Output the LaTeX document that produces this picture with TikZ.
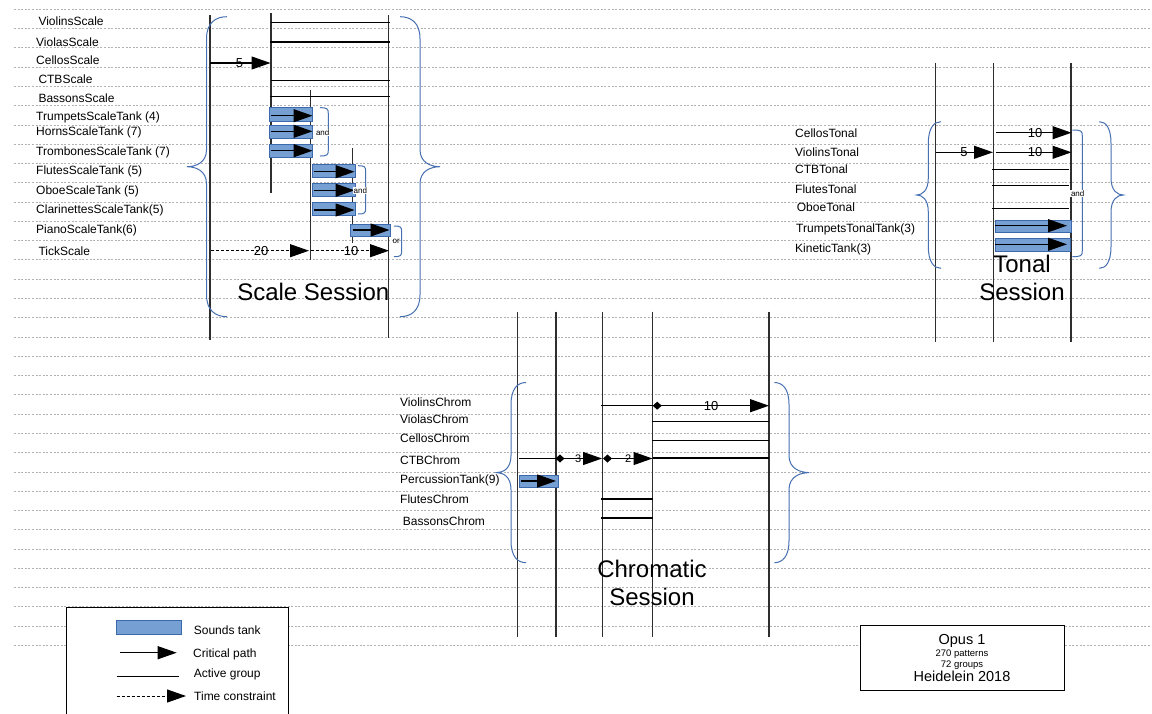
\documentclass[tikz,border=0pt]{standalone}
\usepackage{fontspec}
\setmainfont{Liberation Sans}
\usetikzlibrary{arrows.meta}
\definecolor{bracecol}{RGB}{70,112,178}
\definecolor{tankfill}{RGB}{118,160,212}
\definecolor{tankdraw}{RGB}{60,105,172}
\definecolor{gridcol}{RGB}{178,178,178}
\newcommand{\mybrace}[5]{% xe xs xt yt yb
  \pgfmathsetmacro{\mybraceym}{(#4+#5)/2}
  \draw[bracestyle] (#1,#4) .. controls ({#2+0.45*(#1-#2)},#4) and (#2,{#4+6}) .. (#2,{#4+22})
    -- (#2,{\mybraceym-17}) .. controls (#2,{\mybraceym-4}) and ({#2+0.55*(#3-#2)},\mybraceym) .. (#3,\mybraceym)
    .. controls ({#2+0.55*(#3-#2)},\mybraceym) and (#2,{\mybraceym+4}) .. (#2,{\mybraceym+17})
    -- (#2,{#5-22}) .. controls (#2,{#5-6}) and ({#2+0.45*(#1-#2)},#5) .. (#1,#5);}
\newcommand{\mybracket}[4]{% x0 xs yt yb
  \draw[bracestyle] (#1,#3) .. controls ({#2-1},#3) and (#2,{#3+1}) .. (#2,{#3+6}) -- (#2,{#4-6})
    .. controls (#2,{#4-1}) and ({#2-1},#4) .. (#1,#4);}
\tikzset{
  bracestyle/.style={draw=bracecol, line width=1pt},
  gridline/.style={draw=gridcol, line width=0.8pt, dash pattern=on 2pt off 1.6pt},
  lane/.style={draw=black!82, line width=1.3pt},
  active/.style={draw=black, line width=1.2pt},
  crit/.style={draw=black, line width=1.2pt, -{Triangle[length=19pt,width=13pt]}},
  dcrit/.style={draw=black, line width=1.2pt, {Diamond[length=9pt,width=8pt]}-{Triangle[length=19pt,width=13pt]}},
  timec/.style={draw=black, line width=1pt, dash pattern=on 3pt off 2pt, -{Triangle[length=19pt,width=13pt]}},
  tank/.style={fill=tankfill, draw=tankdraw, line width=1pt},
  lab/.style={anchor=west, inner sep=0pt, font=\fontsize{12}{14}\selectfont, text height=8.6pt, text depth=0pt},
  num/.style={inner sep=0pt, font=\fontsize{13}{15}\selectfont, text height=9.3pt, text depth=0pt},
  snum/.style={inner sep=0pt, font=\fontsize{11}{13}\selectfont, text height=7.9pt, text depth=0pt},
  small/.style={inner sep=0.6pt, font=\fontsize{8}{9}\selectfont, text height=5.8pt, text depth=0pt},
  title/.style={inner sep=0pt, align=center, font=\fontsize{24}{27.6}\selectfont},
}
\begin{document}
\begin{tikzpicture}[x=1pt,y=-1pt]
\useasboundingbox (0,0) rectangle (1152,713);
\fill[white] (0,0) rectangle (1152,713);
% grid
\foreach \k in {0,...,33}
  \draw[gridline] (14,{9.3+19.275*\k}) -- (1152,{9.3+19.275*\k});

%================ SCALE SESSION
\draw[lane] (210,15) -- (210,340);
\draw[lane] (271,13) -- (271,192.7);
\draw[lane] (310.5,90) -- (310.5,260);
\draw[lane] (352.7,148) -- (352.7,242.7);
\draw[lane] (388.3,15) -- (388.3,338);

\node[lab] (sViolins) at (38.3,20.7) {ViolinsScale};
\node[lab] (sViolas) at (36,42.3) {ViolasScale};
\node[lab] (sCellos) at (36,60) {CellosScale};
\node[lab] (sCTB) at (38.3,79.3) {CTBScale};
\node[lab] (sBassons) at (38.3,98.3) {BassonsScale};
\node[lab] (sTrumpets) at (36,116) {TrumpetsScaleTank (4)};
\node[lab] (sHorns) at (36,131) {HornsScaleTank (7)};
\node[lab] (sTrombones) at (36,150.7) {TrombonesScaleTank (7)};
\node[lab] (sFlutes) at (36,170) {FlutesScaleTank (5)};
\node[lab] (sOboe) at (36,190) {OboeScaleTank (5)};
\node[lab] (sClar) at (36,209) {ClarinettesScaleTank(5)};
\node[lab] (sPiano) at (36,229) {PianoScaleTank(6)};
\node[lab] (sTick) at (38.3,251) {TickScale};

\draw[active] (271,22.7) -- (390,22.7);
\draw[active] (270,42) -- (390,42);
\draw[active] (271,80.3) -- (390,80.3);
\draw[active] (270,96.3) -- (390,96.3);
\draw[crit] (210,63) -- (270.5,63);
\node[num] (sn5) at (239.5,63) {5};

\draw[tank] (269.3,107.7) rectangle (312.7,121.7);
\draw[crit] (271,115.7) -- (312.5,115.7);
\draw[tank] (269.3,125) rectangle (312.7,138.3);
\draw[crit] (271,131.3) -- (312.5,131.3);
\draw[tank] (269.3,144) rectangle (312.7,157.7);
\draw[crit] (271,150.7) -- (312.5,150.7);
\draw[tank] (312.3,164) rectangle (355,177.3);
\draw[crit] (314,171.7) -- (354.5,171.7);
\draw[tank] (312.3,183.3) rectangle (355,196.7);
\draw[crit] (314,190.3) -- (354.5,190.3);
\draw[tank] (312.3,202.3) rectangle (355,215.7);
\draw[crit] (314,210) -- (354.5,210);
\draw[tank] (350.7,224) rectangle (390,236);
\draw[crit] (352.5,230) -- (389.5,230);

\mybracket{320}{328.3}{107.7}{156}
\node[small,fill=white] (sand1) at (322.7,132.3) {and};
\mybracket{358}{365.7}{165.7}{214}
\node[small,fill=white] (sand2) at (360.3,190.3) {and};
\mybracket{394}{401.7}{226}{256.7}
\node[small] (sor) at (396.3,241) {or};

\draw[timec] (211,250.7) -- (309,250.7);
\node[num] (sn20) at (261,250.7) {20};
\draw[timec] (311,250.7) -- (389,250.7);
\node[num] (sn10) at (351,250.7) {10};

\node[title] (sTitle) at (313.3,291.7) {Scale Session};
\mybrace{227}{206.5}{187}{16.7}{316.7}
\mybrace{400}{420}{440}{16.7}{316.7}

%================ TONAL SESSION
\draw[lane] (935.7,63.3) -- (935.7,341.7);
\draw[lane] (993.3,63.3) -- (993.3,341.7);
\draw[lane] (1071,63.3) -- (1071,341.7);

\node[lab] (tCellos) at (795,132.7) {CellosTonal};
\node[lab] (tViolins) at (795,152.3) {ViolinsTonal};
\node[lab] (tCTB) at (795,169.3) {CTBTonal};
\node[lab] (tFlutes) at (795,189.3) {FlutesTonal};
\node[lab] (tOboe) at (796.7,206.7) {OboeTonal};
\node[lab] (tTrumpets) at (796,227.7) {TrumpetsTonalTank(3)};
\node[lab] (tKinetic) at (795,247.7) {KineticTank(3)};

\draw[crit] (996,132.7) -- (1071.5,132.7);
\node[num] (tn10a) at (1035,132.7) {10};
\draw[crit] (936,152.3) -- (993,152.3);
\node[num] (tn5) at (964,152.3) {5};
\draw[crit] (996,152.3) -- (1071.5,152.3);
\node[num] (tn10b) at (1035,152.3) {10};
\draw[active] (992.3,169.3) -- (1069,169.3);
\draw[active] (992.3,185.3) -- (1069,185.3);
\draw[active] (992.3,208.3) -- (1069,208.3);
\draw[tank] (995,220) rectangle (1071,232.3);
\draw[crit] (995,225.7) -- (1067,225.7);
\draw[tank] (995,238.3) rectangle (1070,251.7);
\draw[crit] (995,244.3) -- (1067,244.3);

\mybracket{1072.3}{1082.3}{130}{256.7}
\node[small,fill=white] (tand) at (1077.7,193.3) {and};
\node[title] (tTitle) at (1022,278) {Tonal\\Session};
\mybrace{941}{928.3}{916.7}{121.7}{268.3}
\mybrace{1099.3}{1111}{1123.3}{121.7}{268.3}

%================ CHROMATIC SESSION
\foreach \xx in {517.7,556,602.5,652.7,769}
  \draw[lane] (\xx,311.7) -- (\xx,637.3);

\node[lab] (cViolins) at (400,401.7) {ViolinsChrom};
\node[lab] (cViolas) at (400,419.3) {ViolasChrom};
\node[lab] (cCellos) at (400,438.3) {CellosChrom};
\node[lab] (cCTB) at (400,460) {CTBChrom};
\node[lab] (cPerc) at (400,479.3) {PercussionTank(9)};
\node[lab] (cFlutes) at (400,499) {FlutesChrom};
\node[lab] (cBassons) at (402.7,520.7) {BassonsChrom};

\draw[active] (601,405.7) -- (652.7,405.7);
\draw[dcrit] (652.7,405.7) -- (769,405.7);
\node[num] (cn10) at (711,405.7) {10};
\draw[active] (651.7,421.3) -- (769,421.3);
\draw[active] (651.7,440.7) -- (769,440.7);
\draw[active] (519.3,458.5) -- (556,458.5);
\draw[dcrit] (555.5,458.5) -- (602,458.5);
\node[snum] (cn3) at (578.3,459) {3};
\draw[dcrit] (603,458.5) -- (652.5,458.5);
\node[snum] (cn2) at (628.3,459) {2};
\draw[active] (652.7,458) -- (769,458);
\draw[tank] (519.3,475) rectangle (558.3,487.3);
\draw[crit] (521,481) -- (556,481);
\draw[active] (601,499) -- (652.7,499);
\draw[active] (601,518) -- (652.7,518);

\node[title] (cTitle) at (652,583) {Chromatic\\Session};
\mybrace{526}{511}{496.7}{382.5}{562.7}
\mybrace{774.3}{789}{809.3}{382.5}{562.7}

%================ LEGEND
\draw[fill=white, draw=black, line width=1pt] (66.7,607.3) rectangle (288.7,730);
\draw[tank] (116.3,620.3) rectangle (181,634.3);
\node[lab] (lTank) at (193.7,630) {Sounds tank};
\draw[crit] (120,652.7) -- (176.7,652.7);
\node[lab] (lCrit) at (193,653.3) {Critical path};
\draw[active] (116.7,676.7) -- (179,676.7);
\node[lab] (lAct) at (193.7,672.7) {Active group};
\draw[timec] (116.7,696) -- (186,696);
\node[lab] (lTime) at (194,696) {Time constraint};

%================ OPUS BOX
\draw[fill=white, draw=black, line width=1pt] (860,625) rectangle (1064,690);
\node[inner sep=0pt, font=\fontsize{14.5}{16}\selectfont, text height=10.4pt, text depth=0pt] (oTitle) at (962,639) {Opus 1};
\node[inner sep=0pt, font=\fontsize{9.5}{11}\selectfont, text height=6.8pt, text depth=0pt] (oPat) at (962,652.7) {270 patterns};
\node[inner sep=0pt, font=\fontsize{9.5}{11}\selectfont, text height=6.8pt, text depth=0pt] (oGrp) at (962,664) {72 groups};
\node[inner sep=0pt, font=\fontsize{14.5}{16}\selectfont, text height=10.4pt, text depth=0pt] (oAuth) at (962,676.7) {Heidelein 2018};
\end{tikzpicture}
\end{document}
